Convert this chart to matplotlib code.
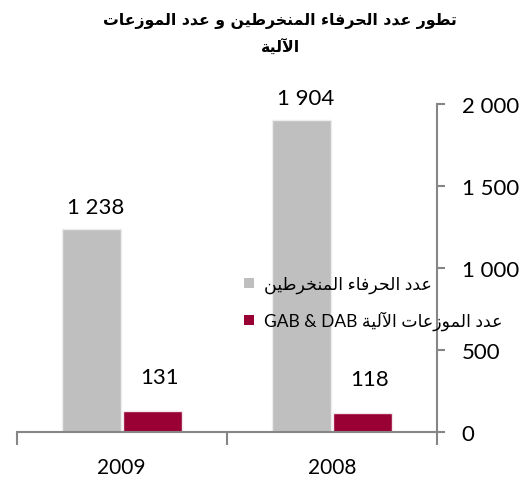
import re
import matplotlib
matplotlib.use("Agg")
import matplotlib.pyplot as plt

# ---------------- data ----------------
categories = ["2009", "2008"]
series_names = ["عدد الحرفاء المنخرطين", "عدد الموزعات الآلية GAB & DAB"]
clients = [1238, 1904]
atms = [131, 118]
y_ticks = [0, 500, 1000, 1500, 2000]
title = "تطور عدد الحرفاء المنخرطين و عدد الموزعات\nالآلية"

# ------------- minimal Arabic shaping (presentation forms) -------------
FORMS = {  # isolated, final, initial, medial
    '\u0621': ('\uFE80', None, None, None),
    '\u0622': ('\uFE81', '\uFE82', None, None),
    '\u0623': ('\uFE83', '\uFE84', None, None),
    '\u0625': ('\uFE87', '\uFE88', None, None),
    '\u0627': ('\uFE8D', '\uFE8E', None, None),
    '\u0628': ('\uFE8F', '\uFE90', '\uFE91', '\uFE92'),
    '\u0629': ('\uFE93', '\uFE94', None, None),
    '\u062A': ('\uFE95', '\uFE96', '\uFE97', '\uFE98'),
    '\u062D': ('\uFEA1', '\uFEA2', '\uFEA3', '\uFEA4'),
    '\u062E': ('\uFEA5', '\uFEA6', '\uFEA7', '\uFEA8'),
    '\u062F': ('\uFEA9', '\uFEAA', None, None),
    '\u0631': ('\uFEAD', '\uFEAE', None, None),
    '\u0632': ('\uFEAF', '\uFEB0', None, None),
    '\u0637': ('\uFEC1', '\uFEC2', '\uFEC3', '\uFEC4'),
    '\u0639': ('\uFEC9', '\uFECA', '\uFECB', '\uFECC'),
    '\u0641': ('\uFED1', '\uFED2', '\uFED3', '\uFED4'),
    '\u0644': ('\uFEDD', '\uFEDE', '\uFEDF', '\uFEE0'),
    '\u0645': ('\uFEE1', '\uFEE2', '\uFEE3', '\uFEE4'),
    '\u0646': ('\uFEE5', '\uFEE6', '\uFEE7', '\uFEE8'),
    '\u0647': ('\uFEE9', '\uFEEA', '\uFEEB', '\uFEEC'),
    '\u0648': ('\uFEED', '\uFEEE', None, None),
    '\u064A': ('\uFEF1', '\uFEF2', '\uFEF3', '\uFEF4'),
}
LAMALEF = {'\u0622': ('\uFEF5', '\uFEF6'), '\u0623': ('\uFEF7', '\uFEF8'),
           '\u0625': ('\uFEF9', '\uFEFA'), '\u0627': ('\uFEFB', '\uFEFC')}


def _dual(c):
    return c in FORMS and FORMS[c][2] is not None


def _joins_prev(c):
    return c in FORMS and FORMS[c][1] is not None


def shape_rtl(s):
    units = []
    i = 0
    while i < len(s):
        c = s[i]
        if c == '\u0644' and i + 1 < len(s) and s[i + 1] in LAMALEF:
            units.append(('LA', s[i + 1]))
            i += 2
        else:
            units.append(('C', c))
            i += 1
    out = []
    for k, (t, c) in enumerate(units):
        prev = units[k - 1] if k > 0 else None
        nxt = units[k + 1] if k + 1 < len(units) else None
        prev_conn = prev is not None and prev[0] == 'C' and _dual(prev[1])
        if t == 'LA':
            iso, fin = LAMALEF[c]
            out.append(fin if prev_conn else iso)
            continue
        if c not in FORMS:
            out.append(c)
            continue
        can_prev = prev_conn and _joins_prev(c)
        can_next = _dual(c) and nxt is not None and (nxt[0] == 'LA' or _joins_prev(nxt[1]))
        iso, fin, ini, med = FORMS[c]
        if can_prev and can_next:
            out.append(med)
        elif can_prev:
            out.append(fin)
        elif can_next:
            out.append(ini)
        else:
            out.append(iso)
    return ''.join(reversed(out))


def visual(text):
    lines = []
    for line in text.split('\n'):
        runs = re.split(r'([A-Za-z0-9][A-Za-z0-9 &]*[A-Za-z0-9])', line)
        vis = []
        for r in runs:
            if not r:
                continue
            if re.match(r'[A-Za-z0-9]', r):
                vis.append(r)
            else:
                vis.append(shape_rtl(r))
        lines.append(''.join(reversed(vis)))
    return '\n'.join(lines)


def fmt(v):
    return f"{v:,.0f}".replace(',', ' ')


# ---------------- figure ----------------
W, H, DPI = 529, 481, 100
fig = plt.figure(figsize=(W / DPI, H / DPI), dpi=DPI)
ax = fig.add_axes([16.7 / W, 1 - 433 / H, 420 / W, (433 - 105) / H])

GRAY = '#BFBFBF'
MAROON = '#990033'
AXC = '#868686'
NUMFONT = ['Lato', 'DejaVu Sans']

x = list(range(len(categories)))
bw = 0.28
gap = 0.005
b1 = ax.bar([xi - bw / 2 - gap for xi in x], clients, width=bw, color=GRAY,
            edgecolor='#EDEDED', linewidth=1.0, label=visual(series_names[0]), zorder=2)
b2 = ax.bar([xi + bw / 2 + gap for xi in x], atms, width=bw, color=MAROON,
            edgecolor='#F2E6EA', linewidth=1.0, label=visual(series_names[1]), zorder=2)

for rect, v in zip(b1, clients):
    ax.annotate(fmt(v), (rect.get_x() + rect.get_width() / 2, v), xytext=(4, 12),
                textcoords='offset pixels', ha='center', va='bottom',
                fontsize=16, family=NUMFONT, color='black')
for rect, v in zip(b2, atms):
    ax.annotate(fmt(v), (rect.get_x() + rect.get_width() / 2, v), xytext=(7, 24),
                textcoords='offset pixels', ha='center', va='bottom',
                fontsize=16, family=NUMFONT, color='black')

ax.set_xlim(-0.5, len(categories) - 0.5)
ax.set_ylim(0, 2000)

for s in ['left', 'top']:
    ax.spines[s].set_visible(False)
for s in ['right', 'bottom']:
    ax.spines[s].set_color(AXC)
    ax.spines[s].set_linewidth(1.5)

ax.yaxis.tick_right()
ax.set_yticks(y_ticks)
ax.set_yticklabels([fmt(v) for v in y_ticks], fontsize=16, family=NUMFONT)
ax.tick_params(axis='y', direction='out', length=6, width=1.5, color=AXC, pad=12)

ax.set_xticks([-0.5, 0.5, 1.5])
ax.set_xticklabels([])
ax.set_xticks(x, minor=True)
ax.set_xticklabels(categories, minor=True, fontsize=15, family=NUMFONT)
ax.tick_params(axis='x', which='major', direction='out', length=9, width=1.5, color=AXC)
ax.tick_params(axis='x', which='minor', length=0, pad=18)

fig.text(280 / W, 1 - 13 / H, visual(title), ha='center', va='top',
         fontsize=11.3, fontweight='bold', family=['DejaVu Sans'], linespacing=1.7)

leg = ax.legend(handles=[b1, b2], loc='upper left',
                bbox_to_anchor=(244 / W, 1 - 277 / H), bbox_transform=fig.transFigure,
                frameon=False, prop={'family': NUMFONT, 'size': 12.5},
                handlelength=0.55, handleheight=0.55, handletextpad=0.6,
                labelspacing=1.0, borderaxespad=0, borderpad=0)
for h in leg.legend_handles:
    h.set_edgecolor('none')

fig.savefig('out.png', dpi=DPI)
